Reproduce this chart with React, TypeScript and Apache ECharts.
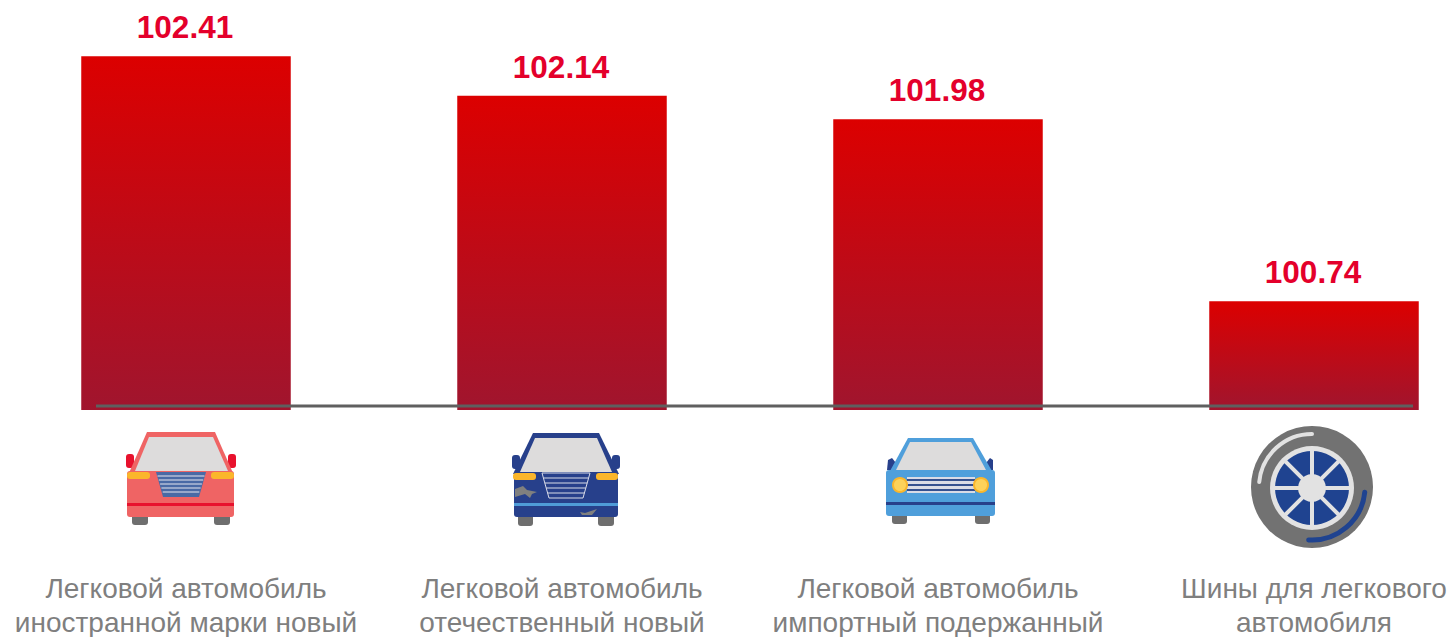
import React, { useEffect, useRef } from "react";
import * as echarts from "echarts";

const categories = [
  "Легковой автомобиль\nиностранной марки новый",
  "Легковой автомобиль\nотечественный новый",
  "Легковой автомобиль\nимпортный подержанный",
  "Шины для легкового\nавтомобиля",
];
const values = [102.41, 102.14, 101.98, 100.74];
const yMin = 100;
const yMax = 102.5;

const Z = 50;
const poly = (points: number[][], fill: string, z = Z) => ({
  type: "polygon", z, silent: true, shape: { points }, style: { fill },
});
const rect = (x: number, y: number, width: number, height: number, fill: string, r = 0, z = Z) => ({
  type: "rect", z, silent: true, shape: { x, y, width, height, r }, style: { fill },
});
const line = (x1: number, y1: number, x2: number, y2: number, stroke: string, lineWidth: number, z = Z) => ({
  type: "line", z, silent: true, shape: { x1, y1, x2, y2 }, style: { stroke, lineWidth },
});

const GLASS = "#dddcdc";
const WHEEL = "#6e6e6e";

function car1() {
  const body = "#ef6464";
  const out: any[] = [
    rect(132, 514, 16, 11, WHEEL, 3), rect(214, 514, 16, 11, WHEEL, 3),
    rect(126, 454, 8, 14, "#e8112d", 3), rect(228, 454, 8, 14, "#e8112d", 3),
    poly([[147, 432], [215, 432], [233, 473], [129, 473]], body),
    rect(127, 471, 107, 46, body, 3),
    poly([[149, 437], [213, 437], [228, 471], [135, 471]], GLASS),
    rect(127, 472, 23, 7, "#fbb62b", 3), rect(211, 472, 23, 7, "#fbb62b", 3),
    poly([[156, 472], [206, 472], [199, 497], [163, 497]], "#4a6aa5"),
    rect(127, 503, 107, 3, "#e8112d"),
  ];
  [476, 480, 484, 488, 492].forEach((y, i) => {
    const inset = 1.5 + i * 1.3;
    out.push(line(156 + inset, y, 206 - inset, y, "#e6e6ee", 1, Z + 1));
  });
  return out;
}

function car2() {
  const body = "#27408b";
  const out: any[] = [
    rect(518, 514, 15, 12, WHEEL, 3), rect(598, 514, 16, 12, WHEEL, 3),
    rect(512, 455, 8, 14, body, 3), rect(612, 455, 8, 14, body, 3),
    poly([[533, 433], [599, 433], [619, 474], [513, 474]], body),
    rect(514, 471, 104, 46, body, 3),
    poly([[535, 438], [597, 438], [612, 472], [520, 472]], GLASS),
    rect(513, 473, 23, 7, "#fbb62b", 3), rect(596, 473, 22, 7, "#fbb62b", 3),
    rect(514, 503, 104, 3, "#4f9cd8"),
    poly([[515, 489], [523, 486], [527, 490], [537, 492], [532, 494], [530, 498], [525, 494], [515, 497]], "#80807f"),
    poly([[580, 512], [585, 513], [597, 509], [592, 515], [582, 515]], "#80807f"),
    line(542, 473, 549, 498, "#d9dce8", 1, Z + 1), line(590, 473, 583, 498, "#d9dce8", 1, Z + 1),
  ];
  [473, 478, 483, 488, 493, 498].forEach((y, i) => {
    const inset = i * 1.4;
    out.push(line(542 + inset, y, 590 - inset, y, "#d9dce8", 1, Z + 1));
  });
  return out;
}

function car3() {
  const body = "#4f9fdb";
  const dark = "#27408b";
  const out: any[] = [
    rect(892, 513, 15, 11, WHEEL, 3), rect(975, 513, 15, 11, WHEEL, 3),
    poly([[887, 470], [888, 460], [892, 458], [896, 463], [896, 470]], dark),
    poly([[993, 470], [993, 460], [990, 458], [986, 463], [986, 470]], dark),
    poly([[908, 438], [973, 438], [992, 471], [890, 471]], body),
    rect(886, 470, 109, 46, body, 3),
    poly([[910, 442], [971, 442], [986, 470], [896, 470]], GLASS),
    rect(907, 477, 68, 16, "#d9dbe6"),
    rect(886, 502, 109, 3, dark),
  ];
  [480, 485, 490].forEach((y) => out.push(line(907, y, 975, y, "#34508f", 2, Z + 1)));
  [900, 981].forEach((cx) =>
    out.push({
      type: "circle", z: Z + 2, silent: true, shape: { cx, cy: 485, r: 7 },
      style: { fill: "#fdd25a", stroke: "#fbb62b", lineWidth: 2 },
    })
  );
  return out;
}

function tire() {
  const cx = 1312, cy = 487;
  const light = "#e2e2e2";
  const blue = "#1f4390";
  const hubY = 488;
  const out: any[] = [
    { type: "circle", z: Z, silent: true, shape: { cx, cy, r: 61 }, style: { fill: "#727272" } },
    { type: "circle", z: Z + 1, silent: true, shape: { cx, cy: hubY, r: 42 }, style: { fill: light } },
    { type: "circle", z: Z + 2, silent: true, shape: { cx, cy: hubY, r: 37 }, style: { fill: blue } },
    {
      type: "arc", z: Z + 1, silent: true,
      shape: { cx, cy, r: 53, startAngle: Math.PI * 1.03, endAngle: Math.PI * 1.5, clockwise: true },
      style: { stroke: light, lineWidth: 4, fill: "none", lineCap: "round" },
    },
    {
      type: "arc", z: Z + 1, silent: true,
      shape: { cx, cy, r: 53, startAngle: 0.1, endAngle: Math.PI * 0.52, clockwise: true },
      style: { stroke: blue, lineWidth: 5, fill: "none", lineCap: "round" },
    },
  ];
  for (let i = 0; i < 4; i++) {
    const a = (i * Math.PI) / 4;
    const dx = Math.cos(a) * 38, dy = Math.sin(a) * 38;
    out.push(line(cx - dx, hubY - dy, cx + dx, hubY + dy, light, 4, Z + 3));
  }
  out.push({ type: "circle", z: Z + 4, silent: true, shape: { cx, cy: hubY, r: 14 }, style: { fill: light } });
  return out;
}

export default function App() {
  const ref = useRef<HTMLDivElement>(null);
  useEffect(() => {
    document.body.style.margin = "0";
    document.body.style.overflow = "hidden";
    const chart = echarts.init(ref.current!, undefined, { renderer: "svg" });
    chart.setOption({
      animation: false,
      backgroundColor: "#ffffff",
      textStyle: { fontFamily: "'Liberation Sans', Arial, sans-serif" },
      grid: { left: -2, top: 43, width: 1504, height: 367, containLabel: false, outerBoundsMode: "none" },
      xAxis: {
        type: "category",
        data: categories,
        axisLine: { show: false },
        axisTick: { show: false },
        axisLabel: {
          interval: 0,
          margin: 161,
          color: "#7f7f7f",
          fontSize: 28,
          lineHeight: 34,
          align: "center",
          verticalAlign: "top",
          fontFamily: "'Liberation Sans', Arial, sans-serif",
          hideOverlap: false,
        },
      },
      yAxis: { type: "value", min: yMin, max: yMax, show: false, splitLine: { show: false } },
      series: [
        {
          type: "bar",
          data: values,
          barWidth: 209.5,
          itemStyle: {
            color: new echarts.graphic.LinearGradient(0, 0, 0, 1, [
              { offset: 0, color: "#dc0000" },
              { offset: 1, color: "#a0152e" },
            ]),
          },
          label: {
            show: true,
            position: "top",
            distance: 13,
            offset: [-1, 0],
            formatter: (p: any) => p.value.toFixed(2),
            color: "#e4002b",
            fontSize: 31.5,
            fontWeight: "bold",
            fontFamily: "'Liberation Sans', Arial, sans-serif",
          },
        },
      ],
      graphic: [
        line(96, 406, 1413, 406, "#5f5f5f", 3, 40),
        ...car1(),
        ...car2(),
        ...car3(),
        ...tire(),
      ],
    });
    return () => chart.dispose();
  }, []);
  return <div ref={ref} style={{ width: 1452, height: 637, overflow: "hidden" }} />;
}
